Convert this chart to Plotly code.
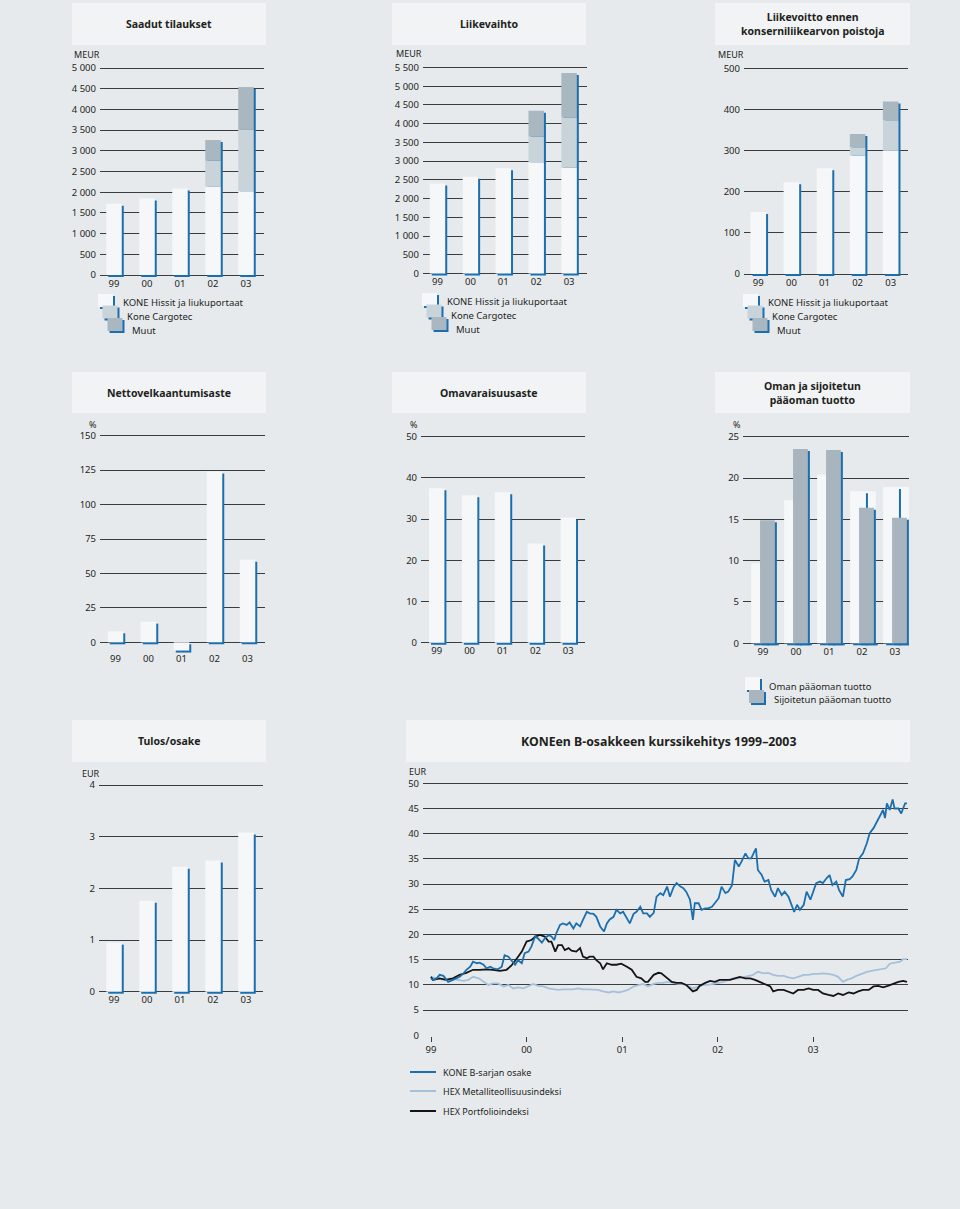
import plotly.graph_objects as go

W, H = 960, 1209

# ---------------- data ----------------
years = ["99", "00", "01", "02", "03"]

orders_kone = [1720, 1845, 2090, 2130, 2025]
orders_cargotec = [0, 0, 0, 630, 1480]
orders_muut = [0, 0, 0, 500, 1035]

sales_kone = [2405, 2585, 2810, 2970, 2825]
sales_cargotec = [0, 0, 0, 685, 1340]
sales_muut = [0, 0, 0, 690, 1185]

ebita_kone = [151, 223, 257, 288, 300]
ebita_cargotec = [0, 0, 0, 20, 74]
ebita_muut = [0, 0, 0, 32, 45]

gearing = [8, 15, -6, 124, 60]
equity_ratio = [37.5, 35.8, 36.5, 24.1, 30.3]
roe = [9.7, 17.3, 20.4, 18.4, 18.9]
roce = [14.9, 23.5, 23.4, 16.4, 15.2]
eps = [0.95, 1.76, 2.42, 2.54, 3.08]

orders_ticks = [0, 500, 1000, 1500, 2000, 2500, 3000, 3500, 4000, 4500, 5000]
orders_ticktext = ["0", "500", "1 000", "1 500", "2 000", "2 500", "3 000", "3 500", "4 000", "4 500", "5 000"]
sales_ticks = [0, 500, 1000, 1500, 2000, 2500, 3000, 3500, 4000, 4500, 5000, 5500]
sales_ticktext = ["0", "500", "1 000", "1 500", "2 000", "2 500", "3 000", "3 500", "4 000", "4 500", "5 000", "5 500"]
ebita_ticks = [0, 100, 200, 300, 400, 500]
gearing_ticks = [0, 25, 50, 75, 100, 125, 150]
equity_ticks = [0, 10, 20, 30, 40, 50]
roe_ticks = [0, 5, 10, 15, 20, 25]
eps_ticks = [0, 1, 2, 3, 4]
price_ticks = [0, 5, 10, 15, 20, 25, 30, 35, 40, 45, 50]
price_years = [1999, 2000, 2001, 2002, 2003]

kone_share = [
    (1999.00, 11.3), (1999.02, 11.0), (1999.06, 11.3), (1999.09, 12.0), (1999.13, 11.8),
    (1999.18, 10.6), (1999.23, 11.0), (1999.27, 11.3), (1999.30, 11.6), (1999.34, 12.3),
    (1999.37, 13.0), (1999.41, 13.6), (1999.44, 14.6), (1999.48, 14.3), (1999.51, 14.4),
    (1999.55, 14.0), (1999.58, 13.3), (1999.62, 13.6), (1999.65, 13.3), (1999.70, 13.1),
    (1999.74, 13.6), (1999.77, 15.9), (1999.81, 15.6), (1999.84, 14.9), (1999.88, 14.0),
    (1999.91, 14.9), (1999.95, 14.3), (1999.98, 16.3), (2000.02, 16.6), (2000.05, 17.6),
    (2000.09, 19.6), (2000.12, 19.2), (2000.16, 18.4), (2000.19, 19.2), (2000.23, 19.9),
    (2000.26, 19.6), (2000.29, 18.9), (2000.31, 20.2), (2000.35, 21.9), (2000.38, 22.2),
    (2000.42, 21.9), (2000.45, 22.4), (2000.49, 21.2), (2000.52, 22.2), (2000.56, 21.6),
    (2000.59, 22.9), (2000.63, 24.5), (2000.66, 24.2), (2000.70, 24.1), (2000.73, 23.5),
    (2000.77, 21.6), (2000.81, 20.6), (2000.84, 22.2), (2000.87, 23.0), (2000.91, 23.5),
    (2000.94, 24.9), (2000.98, 24.2), (2001.01, 24.5), (2001.05, 23.2), (2001.08, 22.2),
    (2001.12, 24.1), (2001.15, 24.5), (2001.19, 25.5), (2001.22, 24.2), (2001.26, 24.2),
    (2001.29, 23.5), (2001.33, 24.3), (2001.36, 27.5), (2001.40, 28.2), (2001.43, 27.8),
    (2001.47, 29.5), (2001.50, 27.5), (2001.54, 29.5), (2001.57, 30.2), (2001.61, 29.5),
    (2001.64, 29.2), (2001.67, 28.5), (2001.71, 26.9), (2001.74, 22.9), (2001.76, 26.2),
    (2001.80, 26.2), (2001.83, 24.9), (2001.87, 25.2), (2001.90, 25.2), (2001.94, 25.5),
    (2001.97, 26.2), (2002.01, 27.2), (2002.04, 29.5), (2002.08, 28.2), (2002.11, 28.5),
    (2002.15, 29.8), (2002.18, 34.8), (2002.22, 33.5), (2002.25, 34.5), (2002.29, 36.1),
    (2002.32, 35.1), (2002.35, 35.1), (2002.40, 37.1), (2002.42, 32.8), (2002.46, 31.8),
    (2002.49, 30.5), (2002.53, 30.8), (2002.56, 28.8), (2002.60, 27.5), (2002.63, 29.2),
    (2002.67, 27.8), (2002.70, 28.5), (2002.74, 27.5), (2002.77, 25.9), (2002.80, 24.5),
    (2002.83, 25.9), (2002.86, 24.9), (2002.90, 25.9), (2002.93, 28.5), (2002.97, 26.9),
    (2003.00, 28.8), (2003.03, 30.2), (2003.07, 30.5), (2003.10, 30.2), (2003.14, 31.2),
    (2003.17, 31.8), (2003.20, 29.8), (2003.24, 30.5), (2003.27, 28.8), (2003.31, 27.5),
    (2003.34, 30.8), (2003.38, 31.0), (2003.41, 31.5), (2003.45, 32.8), (2003.48, 35.1),
    (2003.52, 36.1), (2003.56, 38.1), (2003.59, 40.1), (2003.63, 41.1), (2003.66, 42.1),
    (2003.70, 43.7), (2003.73, 44.7), (2003.75, 43.1), (2003.77, 46.0), (2003.80, 44.7),
    (2003.83, 46.8), (2003.85, 45.0), (2003.89, 45.0), (2003.92, 44.0), (2003.96, 46.0),
    (2003.98, 46.0),
]

hex_metal = [
    (1999.00, 11.6), (1999.06, 11.3), (1999.13, 11.0), (1999.20, 11.3), (1999.27, 11.0),
    (1999.34, 10.8), (1999.39, 11.0), (1999.44, 11.6), (1999.50, 11.3), (1999.55, 10.6),
    (1999.60, 10.0), (1999.65, 10.3), (1999.70, 10.3), (1999.76, 9.7), (1999.81, 10.0),
    (1999.86, 9.3), (1999.91, 9.5), (1999.97, 9.3), (2000.02, 9.7), (2000.07, 10.2),
    (2000.12, 9.8), (2000.18, 9.7), (2000.23, 9.3), (2000.28, 9.1), (2000.33, 9.0),
    (2000.38, 9.1), (2000.44, 9.1), (2000.49, 9.1), (2000.54, 9.3), (2000.59, 9.1),
    (2000.65, 9.1), (2000.70, 9.0), (2000.75, 9.0), (2000.80, 8.7), (2000.86, 8.5),
    (2000.91, 8.7), (2000.96, 8.5), (2001.01, 8.7), (2001.06, 9.0), (2001.12, 9.7),
    (2001.17, 10.0), (2001.22, 10.2), (2001.27, 9.7), (2001.33, 10.2), (2001.38, 10.4),
    (2001.43, 10.4), (2001.48, 10.6), (2001.54, 10.3), (2001.59, 10.2), (2001.64, 10.2),
    (2001.69, 9.7), (2001.74, 9.3), (2001.80, 9.7), (2001.85, 10.0), (2001.90, 10.0),
    (2001.95, 10.2), (2002.01, 10.3), (2002.06, 10.6), (2002.11, 11.0), (2002.16, 11.3),
    (2002.22, 11.3), (2002.27, 11.5), (2002.32, 11.8), (2002.37, 12.0), (2002.42, 12.6),
    (2002.48, 12.3), (2002.53, 12.4), (2002.58, 12.0), (2002.63, 11.8), (2002.69, 11.8),
    (2002.74, 11.5), (2002.79, 11.3), (2002.84, 11.6), (2002.90, 12.0), (2002.95, 12.0),
    (2003.00, 12.2), (2003.05, 12.2), (2003.10, 12.3), (2003.16, 12.2), (2003.21, 12.0),
    (2003.26, 11.6), (2003.31, 10.6), (2003.35, 11.0), (2003.40, 11.3), (2003.45, 11.8),
    (2003.51, 12.3), (2003.56, 12.6), (2003.61, 12.8), (2003.66, 13.0), (2003.71, 13.1),
    (2003.76, 13.3), (2003.80, 14.2), (2003.85, 14.4), (2003.91, 14.6), (2003.94, 15.1),
    (2003.98, 15.1),
]

hex_portfolio = [
    (1999.00, 11.6), (1999.02, 11.0), (1999.09, 11.3), (1999.16, 11.0), (1999.23, 11.3),
    (1999.30, 12.0), (1999.37, 12.4), (1999.44, 13.0), (1999.51, 13.0), (1999.58, 13.1),
    (1999.65, 13.0), (1999.72, 12.8), (1999.79, 13.0), (1999.84, 13.8), (1999.90, 15.3),
    (1999.95, 16.6), (2000.00, 18.6), (2000.05, 18.9), (2000.09, 19.6), (2000.14, 19.9),
    (2000.19, 19.6), (2000.23, 18.6), (2000.26, 18.6), (2000.30, 16.6), (2000.33, 17.9),
    (2000.37, 17.9), (2000.40, 16.9), (2000.44, 17.3), (2000.47, 16.8), (2000.52, 16.6),
    (2000.56, 17.3), (2000.59, 15.6), (2000.63, 15.3), (2000.66, 15.6), (2000.70, 15.6),
    (2000.73, 14.9), (2000.77, 14.3), (2000.80, 13.1), (2000.84, 14.3), (2000.89, 14.0),
    (2000.94, 14.0), (2000.99, 14.2), (2001.05, 13.6), (2001.10, 13.0), (2001.15, 11.6),
    (2001.20, 11.3), (2001.24, 10.6), (2001.27, 10.6), (2001.33, 12.0), (2001.38, 12.4),
    (2001.41, 12.3), (2001.47, 11.3), (2001.52, 10.6), (2001.57, 10.4), (2001.62, 10.4),
    (2001.67, 10.0), (2001.71, 9.3), (2001.74, 8.7), (2001.78, 9.0), (2001.81, 9.8),
    (2001.87, 10.4), (2001.92, 10.8), (2001.97, 10.6), (2002.02, 11.0), (2002.08, 11.0),
    (2002.13, 11.0), (2002.18, 11.3), (2002.23, 11.6), (2002.29, 11.3), (2002.34, 11.3),
    (2002.39, 11.0), (2002.44, 10.6), (2002.49, 10.2), (2002.55, 9.7), (2002.58, 8.7),
    (2002.63, 9.0), (2002.69, 9.0), (2002.74, 8.7), (2002.79, 8.3), (2002.84, 9.0),
    (2002.90, 9.0), (2002.95, 9.3), (2003.00, 9.0), (2003.05, 9.0), (2003.10, 8.3),
    (2003.16, 8.0), (2003.21, 7.8), (2003.26, 8.3), (2003.31, 8.0), (2003.37, 8.5),
    (2003.42, 8.3), (2003.47, 8.7), (2003.52, 9.0), (2003.58, 9.0), (2003.63, 9.7),
    (2003.68, 9.8), (2003.73, 9.5), (2003.78, 9.8), (2003.84, 10.3), (2003.89, 10.6),
    (2003.94, 10.8), (2003.98, 10.6),
]

# ---------------- styles ----------------
BG = "#e7eaed"
BOX = "#f1f3f5"
WHITEBAR = "#f5f7f8"
BLUE = "#1b6fae"
CARGO = "#c9d3da"
MUUT = "#a9b7c1"
ROCE_C = "#a8b5be"
LIGHT = "#a6c0dc"
BLACK = "#141414"
GRID = "#3a3d40"
TXT = "#231f20"
FONT = "Noto Sans"
TICK = dict(family=FONT, size=9.5, color=TXT)

fig = go.Figure()
layout = {}
shapes = []
annotations = []


def fx(p):
    return p / W


def fy(p):
    return 1 - p / H


axis_no = [0]


def bar_panel(gx0, gx1, c0, step, ytop, vtop, y0, ybot, tickvals, ticktext, label_drop=1):
    axis_no[0] += 1
    n = axis_no[0]
    s = "" if n == 1 else str(n)
    ppu = (y0 - ytop) / vtop
    layout["xaxis" + s] = dict(
        domain=[fx(gx0), fx(gx1)], range=[(gx0 - c0) / step, (gx1 - c0) / step],
        anchor="free", position=fy(y0 + label_drop), tickmode="array",
        tickvals=list(range(len(years))), ticktext=years,
        showgrid=False, zeroline=False, showline=False, ticks="", automargin=False,
        tickfont=TICK, fixedrange=True)
    layout["yaxis" + s] = dict(
        domain=[fy(ybot), fy(ytop - 2)], range=[-(ybot - y0) / ppu, vtop + 2 / ppu],
        anchor="x" + s, tickmode="array", tickvals=tickvals, ticktext=ticktext,
        showgrid=True, gridcolor=GRID, gridwidth=1, zeroline=False, showline=False,
        ticks="", ticklabelstandoff=3, automargin=False, tickfont=TICK, fixedrange=True)
    return "x" + s, "y" + s, 1.0 / step, 1.0 / ppu


def add_bar(xa, ya, y, base, width, offset, color):
    fig.add_trace(go.Bar(
        x=list(range(len(y))), y=y, base=base, width=width, offset=offset,
        marker=dict(color=color, line=dict(width=0)), xaxis=xa, yaxis=ya,
        showlegend=False, hoverinfo="skip"))


def shadowed_stack(xa, ya, ux, uy, segments, colors, w=0.47):
    totals = [sum(v) for v in zip(*segments)]
    add_bar(xa, ya, totals, -2 * uy, w, -w / 2 + 2 * ux, BLUE)
    base = [0] * len(totals)
    for seg, col in zip(segments, colors):
        add_bar(xa, ya, seg, base, w, -w / 2, col)
        base = [b + v for b, v in zip(base, seg)]


def title_box(x0, y0, x1, y1, text, size=10.5):
    shapes.append(dict(type="rect", xref="paper", yref="paper", x0=fx(x0), x1=fx(x1),
                       y0=fy(y1), y1=fy(y0), fillcolor=BOX, line=dict(width=0), layer="below"))
    annotations.append(dict(xref="paper", yref="paper", x=fx((x0 + x1) / 2), y=fy((y0 + y1) / 2),
                            text=text, showarrow=False, xanchor="center", yanchor="middle",
                            font=dict(family=FONT, size=size, color=TXT, weight="bold")))


def label(x, y, text, size=9.5, anchor="left"):
    annotations.append(dict(xref="paper", yref="paper", x=fx(x), y=fy(y), text=text,
                            showarrow=False, xanchor=anchor, yanchor="middle",
                            font=dict(family=FONT, size=size, color=TXT)))


def legend_squares(L, T, colors, texts, dx=(0, 4.5, 9.5), dy=(0, 11.5, 24), tx=(23, 27, 32), ty=(8, 22, 36)):
    w, h = 15, 13
    for i, col in enumerate(colors):
        x, y = L + dx[i], T + dy[i]
        shapes.append(dict(type="rect", xref="paper", yref="paper", x0=fx(x + 2), x1=fx(x + w + 2),
                           y0=fy(y + h + 2), y1=fy(y + 2), fillcolor=BLUE, line=dict(width=0)))
        shapes.append(dict(type="rect", xref="paper", yref="paper", x0=fx(x), x1=fx(x + w),
                           y0=fy(y + h), y1=fy(y), fillcolor=col, line=dict(width=0)))
        label(L + tx[i], T + ty[i], texts[i])


seg_colors = [WHITEBAR, CARGO, MUUT]
seg_names = ["KONE Hissit ja liukuportaat", "Kone Cargotec", "Muut"]

# Panel A: Saadut tilaukset
xa, ya, ux, uy = bar_panel(100, 264, 114, 33, 68, 5000, 275, 279, orders_ticks, orders_ticktext)
shadowed_stack(xa, ya, ux, uy, [orders_kone, orders_cargotec, orders_muut], seg_colors)
title_box(72, 3, 266, 45, "Saadut tilaukset")
label(72, 55, "MEUR", size=9)
legend_squares(98, 294, seg_colors, seg_names)

# Panel B: Liikevaihto
xa, ya, ux, uy = bar_panel(423, 587, 437.5, 32.9, 67.5, 5500, 273.5, 278, sales_ticks, sales_ticktext)
shadowed_stack(xa, ya, ux, uy, [sales_kone, sales_cargotec, sales_muut], seg_colors)
title_box(392, 3, 586, 45, "Liikevaihto")
label(394, 54, "MEUR", size=9)
legend_squares(422, 293, seg_colors, seg_names)

# Panel C: Liikevoitto
xa, ya, ux, uy = bar_panel(744, 908, 758.3, 33.1, 68.3, 500, 274, 278,
                           ebita_ticks, [str(v) for v in ebita_ticks])
shadowed_stack(xa, ya, ux, uy, [ebita_kone, ebita_cargotec, ebita_muut], seg_colors)
title_box(715, 3, 910, 45, "Liikevoitto ennen<br>konserniliikearvon poistoja")
label(716, 55, "MEUR", size=9)
legend_squares(743, 294, seg_colors, seg_names)

# Panel D: Nettovelkaantumisaste
xa, ya, ux, uy = bar_panel(100, 265, 115.5, 33, 435.7, 150, 642.3, 655,
                           gearing_ticks, [str(v) for v in gearing_ticks], label_drop=9)
shadowed_stack(xa, ya, ux, uy, [gearing], [WHITEBAR])
title_box(72, 372, 266, 413, "Nettovelkaantumisaste")
label(93, 424, "%", size=9, anchor="center")

# Panel E: Omavaraisuusaste
xa, ya, ux, uy = bar_panel(421, 585, 436.7, 32.9, 436.7, 50, 642.7, 647,
                           equity_ticks, [str(v) for v in equity_ticks])
shadowed_stack(xa, ya, ux, uy, [equity_ratio], [WHITEBAR])
title_box(392, 372, 586, 413, "Omavaraisuusaste")
label(414, 424, "%", size=9, anchor="center")

# Panel F: Oman ja sijoitetun pääoman tuotto
xa, ya, ux, uy = bar_panel(743, 909, 763, 33, 436.7, 25, 643.3, 647,
                           roe_ticks, [str(v) for v in roe_ticks])
add_bar(xa, ya, [2 * uy] * len(roe), -2 * uy, 0.75, -0.33 + 2 * ux, BLUE)
add_bar(xa, ya, roe, 0, 0.78, -0.36, WHITEBAR)
add_bar(xa, ya, roe, -2 * uy, 2 * ux, 0.12, BLUE)
add_bar(xa, ya, roce, -2 * uy, 0.45, -0.09 + 2 * ux, BLUE)
add_bar(xa, ya, roce, 0, 0.45, -0.09, ROCE_C)
title_box(715, 372, 910, 413, "Oman ja sijoitetun<br>pääoman tuotto")
label(737, 424, "%", size=9, anchor="center")
legend_squares(745, 677, [WHITEBAR, ROCE_C], ["Oman pääoman tuotto", "Sijoitetun pääoman tuotto"],
               dx=(0, 4), dy=(0, 13), tx=(22, 27), ty=(9, 22))

# Panel G: Tulos/osake
xa, ya, ux, uy = bar_panel(99, 263, 114, 33, 785, 4, 991.7, 996,
                           eps_ticks, [str(v) for v in eps_ticks])
shadowed_stack(xa, ya, ux, uy, [eps], [WHITEBAR])
title_box(72, 720, 266, 762, "Tulos/osake")
label(80, 773, "EUR", size=9)

# Panel H: share price
axis_no[0] += 1
s = str(axis_no[0])
ppy = (813.3 - 431) / 4
ppu = (1035.3 - 783.3) / 50
gx0, gx1 = 423, 908
layout["xaxis" + s] = dict(
    domain=[fx(gx0), fx(gx1)], range=[1999 + (gx0 - 431) / ppy, 1999 + (gx1 - 431) / ppy],
    anchor="y" + s, tickmode="array", tickvals=price_years, ticktext=years,
    ticks="outside", ticklen=5, tickcolor=GRID, tickwidth=1, automargin=False,
    showgrid=False, zeroline=False, showline=False, tickfont=TICK, fixedrange=True)
layout["yaxis" + s] = dict(
    domain=[fy(1036), fy(781.3)], range=[-0.7 / ppu, 50 + 2 / ppu],
    anchor="x" + s, tickmode="array", tickvals=price_ticks, ticktext=[str(v) for v in price_ticks],
    showgrid=True, gridcolor=GRID, gridwidth=1, zeroline=False, showline=False, ticks="",
    ticklabelstandoff=3, automargin=False, tickfont=TICK, fixedrange=True)
for series, col in [(hex_metal, LIGHT), (hex_portfolio, BLACK), (kone_share, BLUE)]:
    fig.add_trace(go.Scatter(x=[p[0] for p in series], y=[p[1] for p in series], mode="lines",
                             line=dict(color=col, width=1.8), xaxis="x" + s, yaxis="y" + s,
                             showlegend=False, hoverinfo="skip"))
title_box(406, 720, 910, 762, "KONEen B-osakkeen kurssikehitys 1999–2003", size=12.3)
label(407, 771, "EUR", size=9)

for yy, col, txt in [(1072, BLUE, "KONE B-sarjan osake"), (1091, LIGHT, "HEX Metalliteollisuusindeksi"),
                     (1111, BLACK, "HEX Portfolioindeksi")]:
    shapes.append(dict(type="line", xref="paper", yref="paper", x0=fx(410), x1=fx(436),
                       y0=fy(yy), y1=fy(yy), line=dict(color=col, width=2)))
    label(441, yy, txt, size=9)

fig.update_layout(
    width=W, height=H, margin=dict(l=0, r=0, t=0, b=0, pad=0, autoexpand=False),
    paper_bgcolor=BG, plot_bgcolor="rgba(0,0,0,0)",
    barmode="overlay", showlegend=False, hovermode=False,
    shapes=shapes, annotations=annotations, **layout)

fig.write_html("out.html", config={"displayModeBar": False})
